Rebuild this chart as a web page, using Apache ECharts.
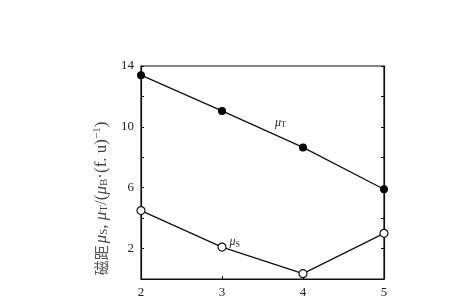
<!DOCTYPE html>
<html><head><meta charset="utf-8">
<script src="https://cdn.jsdelivr.net/npm/echarts@6/dist/echarts.min.js"></script>
<style>html,body{margin:0;padding:0;background:#fff}#c{width:450px;height:300px}</style>
</head><body><div id="c"></div>
<script>
const xValues = [2, 3, 4, 5];
const muT = [13.4, 11.05, 8.65, 5.9];
const muS = [4.5, 2.1, 0.35, 3.0];
const yTickLabels = [2, 6, 10, 14];

const serif = '"Liberation Serif","DejaVu Serif",serif';
const chart = echarts.init(document.getElementById('c'), null, {renderer: 'canvas'});
chart.setOption({
  animation: false,
  backgroundColor: '#fff',
  grid: {left: 141, right: 66, top: 66, bottom: 21, show: true, borderColor: '#111', borderWidth: 1.2, backgroundColor: 'transparent'},
  xAxis: {
    type: 'value', min: 2, max: 5, interval: 1,
    axisLine: {lineStyle: {color: '#111', width: 1.2}},
    axisTick: {inside: true, length: 3, lineStyle: {color: '#111'}},
    splitLine: {show: false},
    axisLabel: {color: '#222', fontFamily: serif, fontSize: 13, margin: 7}
  },
  yAxis: [{
    type: 'value', min: 0, max: 14, interval: 2,
    axisLine: {show: true, lineStyle: {color: '#111', width: 1.2}},
    axisTick: {show: true, inside: true, length: 3, lineStyle: {color: '#111'}},
    splitLine: {show: false},
    axisLabel: {color: '#222', fontFamily: serif, fontSize: 13, margin: 7,
      formatter: v => yTickLabels.includes(v) ? String(v) : ''},
    name: '{c|磁距}{g| }{i|μ}{s|S}{n|, }{i|μ}{s|T}{n|/(}{i|μ}{s|B}{n|·(f. u)}{p|−1}{n|)}',
    nameLocation: 'middle', nameRotate: 90, nameGap: 21,
    nameTextStyle: {
      padding: [0, 52, 0, 0],
      rich: {
        c: {fontFamily: '"Noto Sans CJK SC"', fontSize: 15, color: '#555', lineHeight: 22},
        g: {fontFamily: serif, fontSize: 8, lineHeight: 22},
        i: {fontFamily: serif, fontStyle: 'italic', fontSize: 17, color: '#444', lineHeight: 22},
        s: {fontFamily: serif, fontSize: 11, color: '#444', padding: [7, 0, 0, 0], lineHeight: 22},
        n: {fontFamily: serif, fontSize: 17, color: '#444', lineHeight: 22},
        p: {fontFamily: serif, fontSize: 11, color: '#444', padding: [0, 0, 7, 0], lineHeight: 22}
      }
    }
  }, {
    type: 'value', min: 0, max: 14, interval: 2, position: 'right',
    axisLine: {show: true, lineStyle: {color: '#111', width: 1.2}},
    axisTick: {show: true, inside: true, length: 3, lineStyle: {color: '#111'}},
    axisLabel: {show: false}, splitLine: {show: false}
  }],
  series: [{
    type: 'line',
    data: xValues.map((x, i) => {
      const d = {value: [x, muT[i]]};
      if (i === 1) d.label = {show: true, position: 'right', offset: [44, 12],
        formatter: '{i|μ}{s|T}',
        rich: {i: {fontFamily: serif, fontStyle: 'italic', fontSize: 12, color: '#222'},
               s: {fontFamily: serif, fontSize: 8, color: '#222', padding: [5, 0, 0, 0]}}};
      return d;
    }),
    symbol: 'circle', symbolSize: 8,
    itemStyle: {color: '#000'},
    lineStyle: {color: '#111', width: 1.3},
    z: 3
  }, {
    type: 'line',
    data: xValues.map((x, i) => {
      const d = {value: [x, muS[i]]};
      if (i === 1) d.label = {show: true, position: 'right', offset: [-2, -5],
        formatter: '{i|μ}{s|S}',
        rich: {i: {fontFamily: serif, fontStyle: 'italic', fontSize: 12, color: '#222'},
               s: {fontFamily: serif, fontSize: 8, color: '#222', padding: [5, 0, 0, 0]}}};
      return d;
    }),
    symbol: 'circle', symbolSize: 8,
    itemStyle: {color: '#fff', borderColor: '#111', borderWidth: 1.2},
    lineStyle: {color: '#111', width: 1.3},
    z: 3
  }]
});
</script></body></html>
